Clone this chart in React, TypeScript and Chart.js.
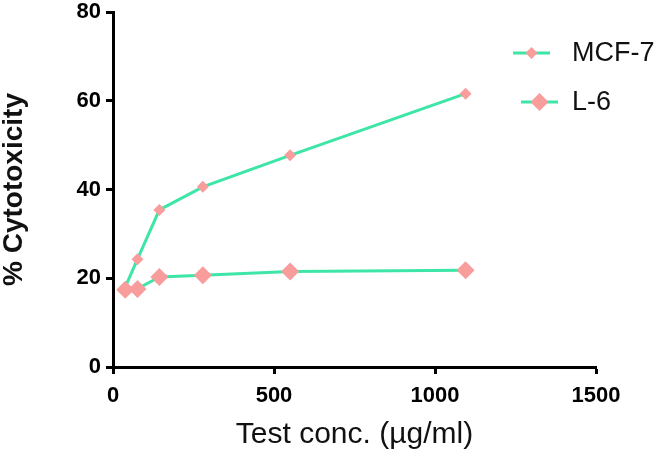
import React, { useEffect, useRef } from "react";
import { Chart, registerables } from "chart.js";

Chart.register(...registerables);

const concentrations = [38, 76, 144, 279, 550, 1095];
const mcf7Values = [18.0, 24.3, 35.4, 40.6, 47.7, 61.6];
const l6Values = [17.4, 17.6, 20.3, 20.7, 21.5, 21.8];
const seriesNames = ["MCF-7", "L-6"];
const yTicks = [0, 20, 40, 60, 80];
const xTicks = [0, 500, 1000, 1500];

const LINE = "#3DE6A6";
const MARK = "#F99C9C";
const FONT = "'Liberation Sans', Arial, sans-serif";

const legendPlugin = {
  id: "customLegend",
  afterDraw(chart: any) {
    const ctx = chart.ctx;
    ctx.save();
    const items = [
      { name: seriesNames[0], x1: 513, x2: 550, y: 53, r: 6 },
      { name: seriesNames[1], x1: 521, x2: 558, y: 102, r: 9 },
    ];
    for (const it of items) {
      ctx.strokeStyle = LINE;
      ctx.lineWidth = 3;
      ctx.beginPath();
      ctx.moveTo(it.x1, it.y);
      ctx.lineTo(it.x2, it.y);
      ctx.stroke();
      const cx = (it.x1 + it.x2) / 2;
      ctx.fillStyle = MARK;
      ctx.beginPath();
      ctx.moveTo(cx, it.y - it.r);
      ctx.lineTo(cx + it.r, it.y);
      ctx.lineTo(cx, it.y + it.r);
      ctx.lineTo(cx - it.r, it.y);
      ctx.closePath();
      ctx.fill();
      ctx.fillStyle = "#111";
      ctx.font = `27px ${FONT}`;
      ctx.textBaseline = "middle";
      ctx.textAlign = "left";
      ctx.fillText(it.name, 572, it.y + 1);
    }
    ctx.restore();
  },
};

export default function App() {
  const ref = useRef<HTMLCanvasElement>(null);
  useEffect(() => {
    document.body.style.margin = "0";
    const chart = new Chart(ref.current!, {
      type: "line",
      data: {
        datasets: [
          {
            label: seriesNames[0],
            data: concentrations.map((x, i) => ({ x, y: mcf7Values[i] })),
            borderColor: LINE,
            backgroundColor: MARK,
            borderWidth: 3,
            pointStyle: "rectRot",
            pointRadius: 6,
            pointBorderWidth: 0,
            pointBackgroundColor: MARK,
            pointBorderColor: MARK,
            order: 2,
          },
          {
            label: seriesNames[1],
            data: concentrations.map((x, i) => ({ x, y: l6Values[i] })),
            borderColor: LINE,
            backgroundColor: MARK,
            borderWidth: 3,
            pointStyle: "rectRot",
            pointRadius: 9,
            pointBorderWidth: 0,
            pointBackgroundColor: MARK,
            pointBorderColor: MARK,
            order: 1,
          },
        ],
      },
      options: {
        animation: false,
        responsive: false,
        maintainAspectRatio: false,
        layout: { padding: { top: 12, right: 73, bottom: 0, left: 0 } },
        plugins: { legend: { display: false }, tooltip: { enabled: false } },
        scales: {
          x: {
            type: "linear",
            min: 0,
            max: 1500,
            afterBuildTicks: (axis: any) => {
              axis.ticks = xTicks.map((v) => ({ value: v }));
            },
            afterFit: (axis: any) => {
              axis.height = 95;
            },
            border: { display: true, color: "#000", width: 3 },
            grid: {
              display: true,
              drawOnChartArea: false,
              drawTicks: true,
              tickLength: 7,
              tickWidth: 3,
              color: "#000",
            },
            ticks: {
              color: "#000",
              font: { family: FONT, size: 22, weight: "bold", lineHeight: 1 },
              padding: 11,
              maxRotation: 0,
              callback: (v: any) => String(v),
            },
            title: {
              display: true,
              text: "Test conc. (µg/ml)",
              color: "#111",
              font: { family: FONT, size: 30 },
              padding: { top: 0, bottom: 9 },
            },
          },
          y: {
            type: "linear",
            min: 0,
            max: 80,
            afterBuildTicks: (axis: any) => {
              axis.ticks = yTicks.map((v) => ({ value: v }));
            },
            afterFit: (axis: any) => {
              axis.width = 113;
              axis.paddingTop = 0;
              axis.paddingBottom = 0;
            },
            border: { display: true, color: "#000", width: 3 },
            grid: {
              display: true,
              drawOnChartArea: false,
              drawTicks: true,
              tickLength: 7,
              tickWidth: 3,
              color: "#000",
            },
            ticks: {
              color: "#000",
              font: { family: FONT, size: 22, weight: "bold", lineHeight: 1 },
              padding: 5,
              callback: (v: any) => String(v),
            },
            title: {
              display: true,
              text: "% Cytotoxicity",
              color: "#111",
              font: { family: FONT, size: 28, weight: "bold", lineHeight: 1 },
              padding: { top: 0, bottom: 0 },
            },
          },
        },
      },
      plugins: [legendPlugin],
    } as any);
    return () => chart.destroy();
  }, []);
  return (
    <div style={{ width: 669, height: 462 }}>
      <canvas ref={ref} width={669} height={462} style={{ width: 669, height: 462 }} />
    </div>
  );
}
